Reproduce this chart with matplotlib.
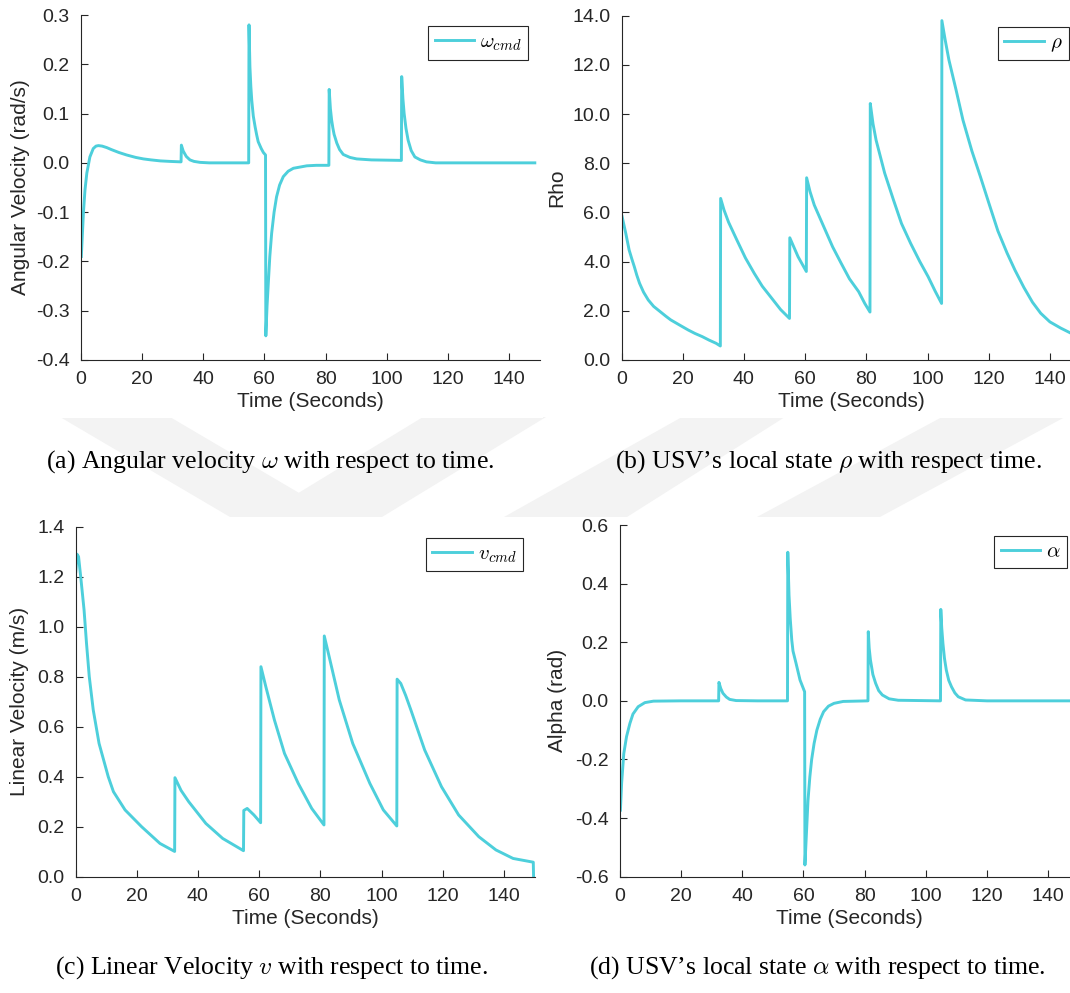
import matplotlib
matplotlib.use("Agg")
import matplotlib.pyplot as plt
from matplotlib.patches import Polygon, Rectangle
from matplotlib.ticker import FormatStrFormatter

plt.rcParams['font.family'] = ['Liberation Sans', 'DejaVu Sans']
plt.rcParams['mathtext.fontset'] = 'cm'
plt.rcParams['axes.unicode_minus'] = False

# (a) angular velocity command
t_w = [0.2, 0.9, 1.4, 2.0, 3.0, 4.1, 5.0, 5.8, 7.0, 8.5, 10, 12.5, 15, 18, 20.5, 23, 26, 29, 32.8,
       32.9, 33.5, 34.5, 35.7, 37, 39, 42, 50, 54.9,
       55.0, 55.3, 55.6, 55.9, 56.4, 57.0, 57.5, 58.0, 59.0, 59.7, 60.4,
       60.5, 60.9, 61.3, 61.8, 62.4, 63.2, 64.0, 65.0, 66.2, 67.8, 69.5, 73.9, 77, 81.1,
       81.2, 81.6, 82.0, 82.4, 82.8, 83.7, 84.6, 85.8, 88, 90.2, 95, 104.8,
       104.9, 105.3, 105.7, 106.3, 107.0, 108, 109.2, 111, 113, 116, 130, 148.4]
w_cmd = [-0.19, -0.10, -0.055, -0.021, 0.012, 0.029, 0.034, 0.035, 0.034, 0.031, 0.027, 0.021, 0.016,
         0.011, 0.008, 0.006, 0.004, 0.003, 0.002,
         0.036, 0.024, 0.013, 0.006, 0.003, 0.001, 0.0, 0.0, 0.0,
         0.28, 0.195, 0.155, 0.127, 0.095, 0.073, 0.057, 0.043, 0.029, 0.021, 0.016,
         -0.351, -0.29, -0.245, -0.19, -0.143, -0.10, -0.069, -0.045, -0.028, -0.017, -0.011, -0.006, -0.005, -0.005,
         0.149, 0.11, 0.087, 0.071, 0.058, 0.040, 0.027, 0.017, 0.011, 0.008, 0.006, 0.005,
         0.175, 0.13, 0.100, 0.07, 0.046, 0.025, 0.012, 0.006, 0.002, 0.0, 0.0, 0.0]

# (b) rho
t_r = [0.2, 1.4, 2.5, 3.4, 4.2, 5.0, 5.9, 7.2, 8.75, 10.5, 12.7, 14.5, 16.1, 19, 21.8, 24, 26.4, 28.6, 30.9, 32.3,
       32.4, 33.5, 35, 37.7, 40.5, 43.4, 46, 49.1, 52, 54.9,
       55.0, 57.7, 60.4,
       60.5, 61.6, 63, 66.1, 69, 71.8, 74.5, 77.5, 79.5, 81.2,
       81.3, 82.2, 83.2, 86, 88.9, 91.5, 94.5, 97.5, 100.2, 102.5, 104.6,
       104.7, 105.8, 107, 109.3, 111.6, 114.5, 117.3, 120, 123, 126, 128.6, 131.5, 134.3, 137, 140,
       143.5, 147.5, 148.4]
rho = [5.83, 5.15, 4.47, 4.1, 3.79, 3.45, 3.12, 2.76, 2.44, 2.18, 1.96, 1.78, 1.63, 1.42, 1.22, 1.08, 0.95, 0.81, 0.68, 0.57,
       6.57, 6.1, 5.6, 4.88, 4.15, 3.52, 3.0, 2.51, 2.05, 1.69,
       4.97, 4.2, 3.6,
       7.41, 6.85, 6.3, 5.42, 4.6, 3.93, 3.3, 2.78, 2.3, 1.95,
       10.43, 9.6, 8.94, 7.6, 6.5, 5.55, 4.74, 4.0, 3.39, 2.8, 2.3,
       13.8, 13.0, 12.2, 11.0, 9.75, 8.5, 7.45, 6.4, 5.25, 4.35, 3.65, 2.95, 2.35, 1.9, 1.55,
       1.3, 1.05, 1.0]

# (c) linear velocity command
t_v = [0.1, 0.5, 1.0, 1.7, 2.8, 3.6, 4.5, 5.8, 7.7, 10.7, 12.4, 16.2, 21.6, 27.6, 32.4,
       32.5, 34.5, 37, 42.6, 48.1, 54.9,
       55.0, 56.1, 58.3, 60.5,
       60.6, 62.2, 65, 68.3, 72.8, 77.2, 81.2,
       81.3, 82.9, 86.2, 90.6, 96.2, 100.6, 105.0,
       105.1, 106.3, 107.9, 109.6, 114.1, 119.6, 125.2, 131.8, 137.4, 143, 149.6, 149.7]
v_cmd = [1.22, 1.29, 1.28, 1.2, 1.067, 0.933, 0.80, 0.667, 0.533, 0.40, 0.340, 0.267, 0.20, 0.133, 0.101,
         0.396, 0.345, 0.30, 0.213, 0.153, 0.104,
         0.265, 0.273, 0.247, 0.216,
         0.84, 0.76, 0.627, 0.493, 0.373, 0.273, 0.207,
         0.963, 0.88, 0.707, 0.533, 0.373, 0.267, 0.203,
         0.79, 0.773, 0.725, 0.667, 0.507, 0.36, 0.247, 0.16, 0.107, 0.073, 0.058, 0.0]

# (d) alpha
t_a = [0.2, 0.6, 1.3, 2.2, 3.3, 4.3, 6.0, 8.2, 11, 20, 32.3,
       32.4, 33.0, 33.7, 34.8, 35.9, 38, 45, 54.8,
       54.9, 55.3, 55.7, 56.2, 56.6, 57.6, 58.9, 60.4,
       60.5, 61.0, 61.5, 62.1, 62.7, 63.5, 64.4, 65.5, 66.6, 68.2, 70, 73, 81.1,
       81.2, 81.5, 81.9, 82.7, 83.6, 84.6, 85.8, 88, 91, 104.8,
       104.9, 105.2, 105.6, 106.1, 106.7, 107.5, 108.4, 109.5, 110.6, 113, 120, 148.4]
alpha = [-0.373, -0.28, -0.18, -0.122, -0.077, -0.045, -0.02, -0.006, -0.001, 0.0, 0.0,
         0.063, 0.042, 0.026, 0.013, 0.005, 0.001, 0.0, 0.0,
         0.507, 0.36, 0.28, 0.207, 0.17, 0.128, 0.071, 0.031,
         -0.56, -0.45, -0.34, -0.26, -0.20, -0.145, -0.10, -0.063, -0.037, -0.018, -0.0085, -0.002, 0.0,
         0.236, 0.18, 0.14, 0.09, 0.06, 0.035, 0.02, 0.007, 0.002, 0.0,
         0.312, 0.25, 0.196, 0.145, 0.105, 0.07, 0.048, 0.027, 0.014, 0.003, 0.0, 0.0]

x_ticks = [0, 20, 40, 60, 80, 100, 120, 140]

CYAN = '#4dcfdb'
DARK = '#262626'
W, H = 1070, 993

fig = plt.figure(figsize=(W / 100, H / 100), dpi=100)


def px_rect(l, t, r, b):
    return [l / W, 1 - b / H, (r - l) / W, (b - t) / H]


# faint watermark behind the four plot images
bg = fig.add_axes([0, 0, 1, 1], zorder=-5)
bg.set_xlim(0, W)
bg.set_ylim(H, 0)
bg.axis('off')
for pts in [[(60, 417), (170, 417), (340, 517), (230, 517)],
            [(423, 417), (546, 417), (382, 517), (259, 517)],
            [(682, 417), (785, 417), (627, 517), (504, 517)],
            [(942, 417), (1065, 417), (880, 517), (757, 517)]]:
    bg.add_patch(Polygon(pts, closed=True, color='#f3f3f3', lw=0))
for l, t, r, b in [(0, 0, 543, 418), (548, 0, 1070, 418), (0, 517, 543, 940), (548, 517, 1070, 940)]:
    bg.add_patch(Rectangle((l, t), r - l, b - t, color='white', lw=0))


def panel(rect, t, y, ylim, yticks, ylabel, label, ylab_px):
    ax = fig.add_axes(px_rect(*rect))
    ax.plot(t, y, color=CYAN, lw=2.1, label=label)
    ax.set_xlim(0, 150)
    ax.set_ylim(*ylim)
    ax.set_xticks(x_ticks)
    ax.set_yticks(yticks)
    ax.yaxis.set_major_formatter(FormatStrFormatter('%.1f'))
    for s in ['top', 'right']:
        ax.spines[s].set_visible(False)
    for s in ['left', 'bottom']:
        ax.spines[s].set_color(DARK)
        ax.spines[s].set_linewidth(0.8)
    ax.tick_params(direction='in', length=5, width=0.8, colors=DARK, labelsize=14, pad=8)
    ax.set_xlabel('Time (Seconds)', fontsize=15, color=DARK, labelpad=3)
    ax.set_ylabel(ylabel, fontsize=15, color=DARK)
    ax.yaxis.set_label_coords((ylab_px - rect[0]) / (rect[2] - rect[0]), 0.5)
    leg = ax.legend(loc='upper right', fontsize=15, frameon=True, fancybox=False,
                    edgecolor=DARK, framealpha=1, borderaxespad=0.55,
                    handlelength=1.9, handletextpad=0.3, borderpad=0.3)
    leg.get_frame().set_linewidth(0.8)
    return ax


panel((80.7, 15, 539.7, 360), t_w, w_cmd, (-0.4, 0.3),
      [-0.4, -0.3, -0.2, -0.1, 0.0, 0.1, 0.2, 0.3],
      'Angular Velocity (rad/s)', r'$\omega_{cmd}$', 30)
panel((621.5, 15.7, 1080.5, 360), t_r, rho, (0, 14),
      [0, 2, 4, 6, 8, 10, 12, 14], 'Rho', r'$\rho$', 566)
panel((75.5, 526.7, 534.5, 876.7), t_v, v_cmd, (0, 1.4),
      [0, 0.2, 0.4, 0.6, 0.8, 1.0, 1.2, 1.4],
      'Linear Velocity (m/s)', r'$v_{cmd}$', 29)
panel((619.8, 525, 1078.8, 876.7), t_a, alpha, (-0.6, 0.6),
      [-0.6, -0.4, -0.2, 0.0, 0.2, 0.4, 0.6], 'Alpha (rad)', r'$\alpha$', 567)

cap = dict(family='Liberation Serif', fontsize=18.5, ha='center', va='center')
fig.text(270 / W, 1 - 462 / H, r'(a) Angular velocity $\omega$ with respect to time.', **cap)
fig.text(828 / W, 1 - 462 / H, '(b) USV\u2019s local state $\\rho$ with respect time.', **cap)
fig.text(272 / W, 1 - 968 / H, r'(c) Linear Velocity $v$ with respect to time.', **cap)
fig.text(817 / W, 1 - 968 / H, '(d) USV\u2019s local state $\\alpha$ with respect to time.', **cap)

fig.savefig('out.png', dpi=100)
